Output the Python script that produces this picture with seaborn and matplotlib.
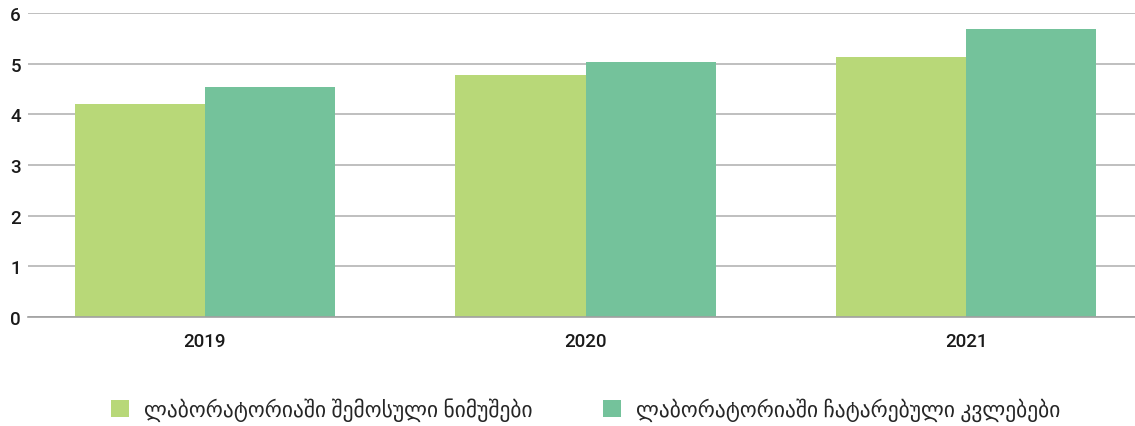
import matplotlib
matplotlib.use("Agg")
import matplotlib.pyplot as plt
import seaborn as sns
import pandas as pd
from matplotlib.patches import Patch

years = ["2019", "2020", "2021"]
series_names = ["ლაბორატორიაში შემოსული ნიმუშები", "ლაბორატორიაში ჩატარებული კვლებები"]
samples = [4.21, 4.78, 5.14]
studies = [4.55, 5.04, 5.69]
colors = ["#b8d878", "#74c29b"]

df = pd.DataFrame({
    "year": years * 2,
    "series": [series_names[0]] * 3 + [series_names[1]] * 3,
    "value": samples + studies,
})

sns.set_theme(style="white")
plt.rcParams["font.family"] = ["Roboto", "DejaVu Sans"]

fig = plt.figure(figsize=(11.35, 4.27), dpi=100)
ax = fig.add_axes([0.0247, 0.255, 0.9753, 0.712])

sns.barplot(data=df, x="year", y="value", hue="series", palette=colors,
            width=0.685, saturation=1, ax=ax, legend=False, errorbar=None,
            linewidth=0)

ax.set_ylim(0, 6)
ax.set_xlim(-0.465, 2.444)
ax.set_yticks(range(0, 7))
ax.yaxis.grid(True, color="#b4b4b4", linewidth=1.2)
ax.set_axisbelow(True)
for s in ["top", "right", "left"]:
    ax.spines[s].set_visible(False)
ax.spines["bottom"].set_color("#a0a0a0")
ax.spines["bottom"].set_linewidth(1.2)
ax.set_xlabel("")
ax.set_ylabel("")
ax.tick_params(axis="both", length=0, labelsize=13.5, colors="#1a1a1a")
ax.tick_params(axis="y", pad=5)
ax.tick_params(axis="x", pad=11)
for t in ax.get_xticklabels() + ax.get_yticklabels():
    t.set_fontweight("medium")

handles = [Patch(facecolor=c, edgecolor="none") for c in colors]
fig.legend(handles, series_names, loc="center", bbox_to_anchor=(0.516, 0.04),
           ncol=2, frameon=False, fontsize=15.5, handlelength=0.84, handleheight=0.84,
           columnspacing=3.25, handletextpad=0.7)

fig.savefig("out.png", dpi=100)
